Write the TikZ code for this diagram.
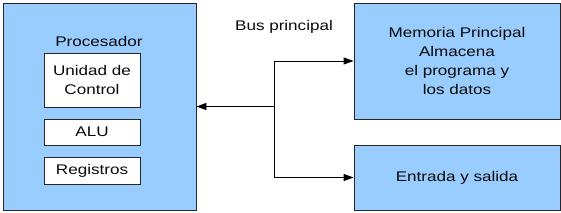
\documentclass[tikz,border=0pt]{standalone}
\usepackage{fontspec}
\setmainfont[FakeStretch=1.22]{Liberation Sans}
\usetikzlibrary{arrows.meta}
\definecolor{boxblue}{RGB}{153,204,255}
\definecolor{txt}{RGB}{10,10,10}
\begin{document}
\begin{tikzpicture}[x=1pt,y=-1pt,
  every node/.style={font=\fontsize{14}{18.7}\selectfont, text=txt, inner sep=0pt, align=center},
  bluebox/.style={draw=black!85, fill=boxblue, line width=0.9pt},
  whitebox/.style={draw=black!85, fill=white, line width=0.9pt, minimum width=96pt},
  arr/.style={draw=black, line width=0.9pt, -{Triangle[length=10pt,width=7pt]}}
]
\useasboundingbox (0,0) rectangle (561,212);
\node[bluebox, minimum width=193pt, minimum height=207pt] (proc) at (99.5,106.5) {};
\node (proctitle) at (99,41) {Procesador};
\node[whitebox, minimum height=54pt] (uc) at (92,80) {Unidad de\\Control};
\node[whitebox, minimum height=26pt] (alu) at (92,132) {ALU};
\node[whitebox, minimum height=27pt] (reg) at (92,170.5) {Registros};
\node[bluebox, minimum width=206pt, minimum height=116pt] (mem) at (457,61) {Memoria Principal\\Almacena\\el programa y\\los datos};
\node[bluebox, minimum width=206pt, minimum height=65pt] (io) at (457,177.5) {Entrada y salida};
\node (bus) at (284,27) {Bus principal};
\coordinate (j) at (274,106.5);
\draw[arr] (j) -- (proc.east);
\draw[arr] (j) |- (mem.west);
\draw[arr] (j) |- (io.west);
\end{tikzpicture}
\end{document}
